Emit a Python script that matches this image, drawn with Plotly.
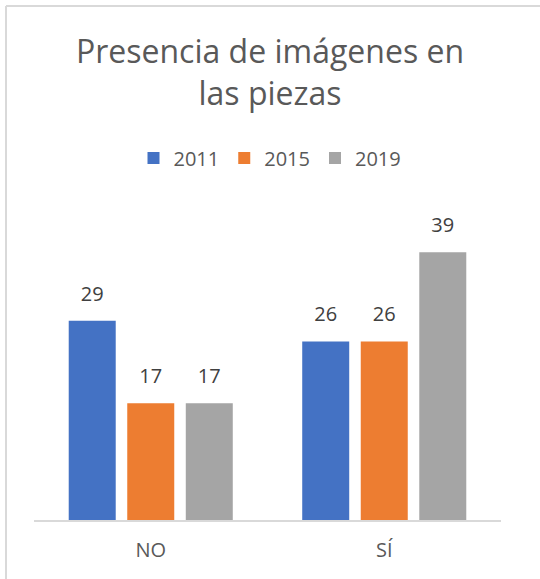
import plotly.graph_objects as go

categories = ["NO", "SÍ"]
years = ["2011", "2015", "2019"]
values_2011 = [29, 26]
values_2015 = [17, 26]
values_2019 = [17, 39]
colors = ["#4472C4", "#ED7D31", "#A5A5A5"]

W, H = 540, 579
ml, mr, mt, mb = 34, 39, 211, 59
ph = H - mt - mb
pw = W - ml - mr

fig = go.Figure()
for name, vals, col in zip(years, [values_2011, values_2015, values_2019], colors):
    fig.add_trace(go.Bar(
        x=categories, y=vals, name=name,
        marker=dict(color=col, line=dict(width=0)),
        text=vals, texttemplate="<span style='font-size:20px'>%{y}</span><br> ",
        textposition="outside", cliponaxis=False, constraintext="none",
        textfont=dict(size=11, color="#404040", family="Open Sans, sans-serif"),
    ))

fig.update_layout(
    width=W, height=H,
    margin=dict(l=ml, r=mr, t=mt, b=mb, pad=0),
    paper_bgcolor="white", plot_bgcolor="white",
    barmode="group", bargap=0.248, bargroupgap=0.197,
    font=dict(family="Open Sans, sans-serif", color="#595959"),
    title=dict(
        text="Presencia de imágenes en<br>las piezas",
        x=0.5, xanchor="center", xref="container",
        y=1 - 63 / H, yanchor="top", yref="container",
        font=dict(size=32, color="#595959", family="Open Sans, sans-serif"),
    ),
    legend=dict(
        orientation="h", x=(270 - ml) / pw, xanchor="center", xref="paper",
        y=(H - mb - 158) / ph, yanchor="middle", yref="paper",
        font=dict(size=20, color="#595959"),
        itemwidth=30, traceorder="normal",
    ),
    xaxis=dict(
        showline=True, linecolor="#D9D9D9", linewidth=2,
        ticks="outside", ticklen=11, tickcolor="rgba(0,0,0,0)",
        tickfont=dict(size=20, color="#595959"),
        showgrid=False,
    ),
    yaxis=dict(
        range=[0, 45], showticklabels=False, showgrid=False,
        zeroline=False, showline=False, fixedrange=True,
    ),
    shapes=[
        dict(type="line", xref="paper", yref="paper",
             x0=(6 - ml) / pw, x1=(W - ml + 5) / pw,
             y0=(H - mb - 6) / ph, y1=(H - mb - 6) / ph,
             line=dict(color="#D9D9D9", width=2)),
        dict(type="line", xref="paper", yref="paper",
             x0=(6 - ml) / pw, x1=(6 - ml) / pw,
             y0=(H - mb - 6) / ph, y1=-(mb + 5) / ph,
             line=dict(color="#D9D9D9", width=2)),
    ],
)

fig.write_html("out.html", config={"displayModeBar": False},
               post_script="document.body.style.margin='0';")
